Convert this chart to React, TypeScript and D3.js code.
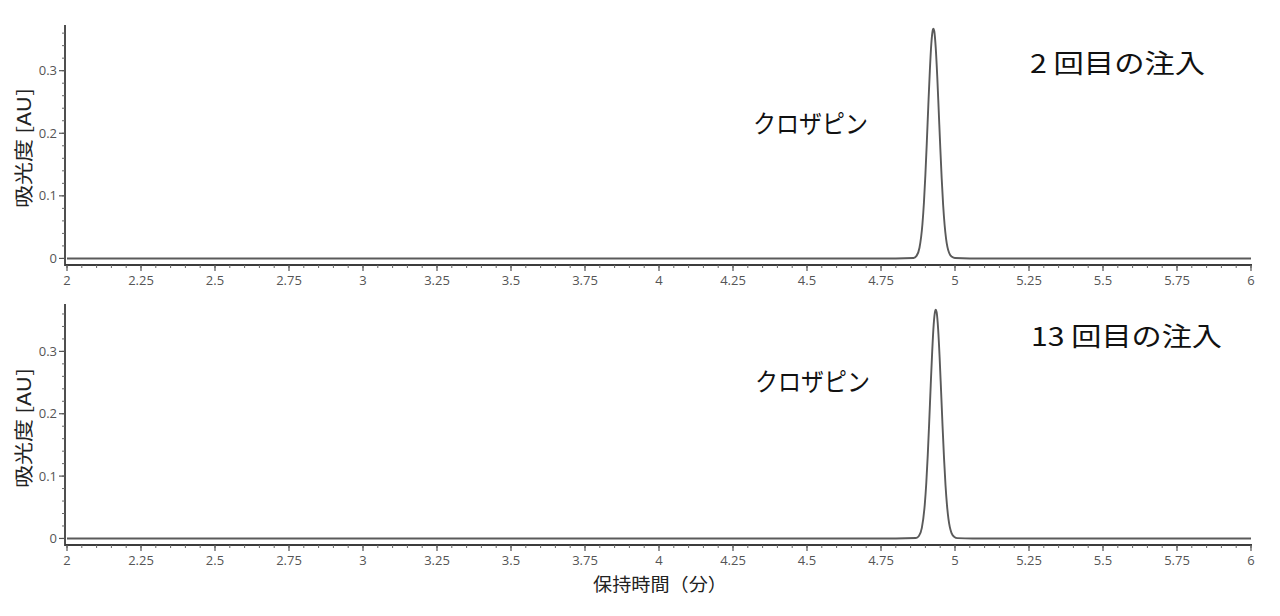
import React from "react";
import * as d3 from "d3";

// ---- data ----
const xTicks = [2, 2.25, 2.5, 2.75, 3, 3.25, 3.5, 3.75, 4, 4.25, 4.5, 4.75, 5, 5.25, 5.5, 5.75, 6];
const xTickLabels = ["2", "2.25", "2.5", "2.75", "3", "3.25", "3.5", "3.75", "4", "4.25", "4.5", "4.75", "5", "5.25", "5.5", "5.75", "6"];
const yTicks = [0, 0.1, 0.2, 0.3];
const yTickLabels = ["0", "0.1", "0.2", "0.3"];

const run2Time = [2.0, 4.8, 4.86, 4.87, 4.88, 4.89, 4.895, 4.9, 4.905, 4.91, 4.915, 4.92, 4.925, 4.927, 4.93, 4.935, 4.94, 4.945, 4.95, 4.955, 4.96, 4.965, 4.97, 4.98, 4.99, 5.0, 5.05, 6.0];
const run2Abs = [0.0, 0.0, 0.0007, 0.004, 0.017, 0.055, 0.089, 0.134, 0.188, 0.246, 0.3, 0.343, 0.365, 0.367, 0.363, 0.336, 0.291, 0.236, 0.18, 0.128, 0.085, 0.053, 0.031, 0.009, 0.0025, 0.0006, 0.0, 0.0];

const run13Time = [2.0, 4.8, 4.868, 4.878, 4.888, 4.898, 4.903, 4.908, 4.913, 4.918, 4.923, 4.928, 4.933, 4.935, 4.938, 4.943, 4.948, 4.953, 4.958, 4.963, 4.968, 4.973, 4.978, 4.988, 4.998, 5.008, 5.06, 6.0];
const run13Abs = [0.0, 0.0, 0.0007, 0.004, 0.017, 0.055, 0.089, 0.134, 0.188, 0.246, 0.3, 0.343, 0.365, 0.367, 0.363, 0.336, 0.291, 0.236, 0.18, 0.128, 0.085, 0.053, 0.031, 0.009, 0.0025, 0.0006, 0.0, 0.0];

const peakName = "クロザピン";
const injLabels = ["2 回目の注入", "13 回目の注入"];
const yTitle = "吸光度 [AU]";
const xTitle = "保持時間（分）";

const W = 1280;
const H = 616;

const tickFont = "'Open Sans', 'DejaVu Sans', sans-serif";
const jpFont = "'Noto Sans CJK JP', 'Noto Sans', sans-serif";

type PanelProps = {
  time: number[];
  abs: number[];
  yTop: number;
  yAxis: number;
  yMax: number;
  injLabel: string;
  injBox: { x: number; y: number; w: number; size: number };
  peakBox: { x: number; y: number; w: number; size: number };
  titleY: number;
};

function Panel(p: PanelProps) {
  const x = d3.scaleLinear().domain([2, 6]).range([67, 1251]);
  const y = d3.scaleLinear().domain([-0.0105, p.yMax]).range([p.yAxis, p.yTop]);
  const pts: [number, number][] = p.time.map((t, i) => [t, p.abs[i]]);
  const line = d3
    .line<[number, number]>()
    .x((d) => x(d[0]))
    .y((d) => y(d[1]))
    .curve(d3.curveMonotoneX);
  const xMinor = d3.range(0, 81).map((i) => 2 + i * 0.05);
  const yMinor = d3.range(0, 19).map((i) => i * 0.02);
  const axisX = 65;
  const axisColor = "#3c3c3c";
  return (
    <g>
      {/* signal */}
      <path d={line(pts) || ""} fill="none" stroke="#5a5a5a" strokeWidth={1.9} />
      {/* y axis */}
      <line x1={axisX} x2={axisX} y1={p.yTop} y2={p.yAxis + 1} stroke={axisColor} strokeWidth={1.8} />
      {yMinor.map((v, i) => (
        <line key={"ym" + i} x1={axisX - 3} x2={axisX} y1={y(v)} y2={y(v)} stroke="#666" strokeWidth={1} />
      ))}
      {yTicks.map((v, i) => (
        <g key={"yt" + i}>
          <line x1={axisX - 6} x2={axisX} y1={y(v)} y2={y(v)} stroke="#555" strokeWidth={1.2} />
          <text
            x={axisX - 8}
            y={y(v)}
            dy="0.35em"
            textAnchor="end"
            fontFamily={tickFont}
            fontSize={13}
            fill="#555"
          >
            {yTickLabels[i]}
          </text>
        </g>
      ))}
      {/* x axis */}
      <line x1={axisX} x2={x(6) + 1} y1={p.yAxis} y2={p.yAxis} stroke={axisColor} strokeWidth={1.8} />
      {xMinor.map((v, i) => (
        <line key={"xm" + i} x1={x(v)} x2={x(v)} y1={p.yAxis} y2={p.yAxis + 3} stroke="#666" strokeWidth={1} />
      ))}
      {xTicks.map((v, i) => (
        <g key={"xt" + i}>
          <line x1={x(v)} x2={x(v)} y1={p.yAxis} y2={p.yAxis + 6} stroke="#555" strokeWidth={1.2} />
          <text
            x={x(v)}
            y={p.yAxis + 20}
            textAnchor="middle"
            fontFamily={tickFont}
            fontSize={13}
            fill="#555"
          >
            {xTickLabels[i]}
          </text>
        </g>
      ))}
      {/* y title */}
      <text
        transform={`translate(22,${p.titleY}) rotate(-90)`}
        textAnchor="middle"
        dominantBaseline="central"
        fontFamily={jpFont}
        fontSize={19}
        fill="#222"
        textLength={120}
        lengthAdjust="spacingAndGlyphs"
      >
        {yTitle}
      </text>
      {/* annotations */}
      <text
        x={p.peakBox.x}
        y={p.peakBox.y}
        fontFamily={jpFont}
        fontSize={p.peakBox.size}
        fill="#111"
        textLength={p.peakBox.w}
        lengthAdjust="spacingAndGlyphs"
      >
        {peakName}
      </text>
      <text
        x={p.injBox.x}
        y={p.injBox.y}
        fontFamily={jpFont}
        fontSize={p.injBox.size}
        fill="#111"
        textLength={p.injBox.w}
        lengthAdjust="spacingAndGlyphs"
      >
        {p.injLabel}
      </text>
    </g>
  );
}

export default function App() {
  return (
    <svg
      width={W}
      height={H}
      viewBox={`0 0 ${W} ${H}`}
      style={{ position: "absolute", left: 0, top: 0, background: "#fff" }}
    >
      <rect width={W} height={H} fill="#fff" />
      <Panel
        time={run2Time}
        abs={run2Abs}
        yTop={25}
        yAxis={265}
        yMax={0.373}
        injLabel={injLabels[0]}
        injBox={{ x: 1030, y: 73, w: 175, size: 26 }}
        peakBox={{ x: 753, y: 133, w: 115, size: 25 }}
        titleY={148}
      />
      <Panel
        time={run13Time}
        abs={run13Abs}
        yTop={304}
        yAxis={545}
        yMax={0.376}
        injLabel={injLabels[1]}
        injBox={{ x: 1031, y: 346, w: 191, size: 26 }}
        peakBox={{ x: 755, y: 391, w: 115, size: 25 }}
        titleY={428}
      />
      <text
        x={660}
        y={591}
        textAnchor="middle"
        fontFamily={jpFont}
        fontSize={18}
        fill="#222"
        textLength={134}
        lengthAdjust="spacingAndGlyphs"
      >
        {xTitle}
      </text>
    </svg>
  );
}
